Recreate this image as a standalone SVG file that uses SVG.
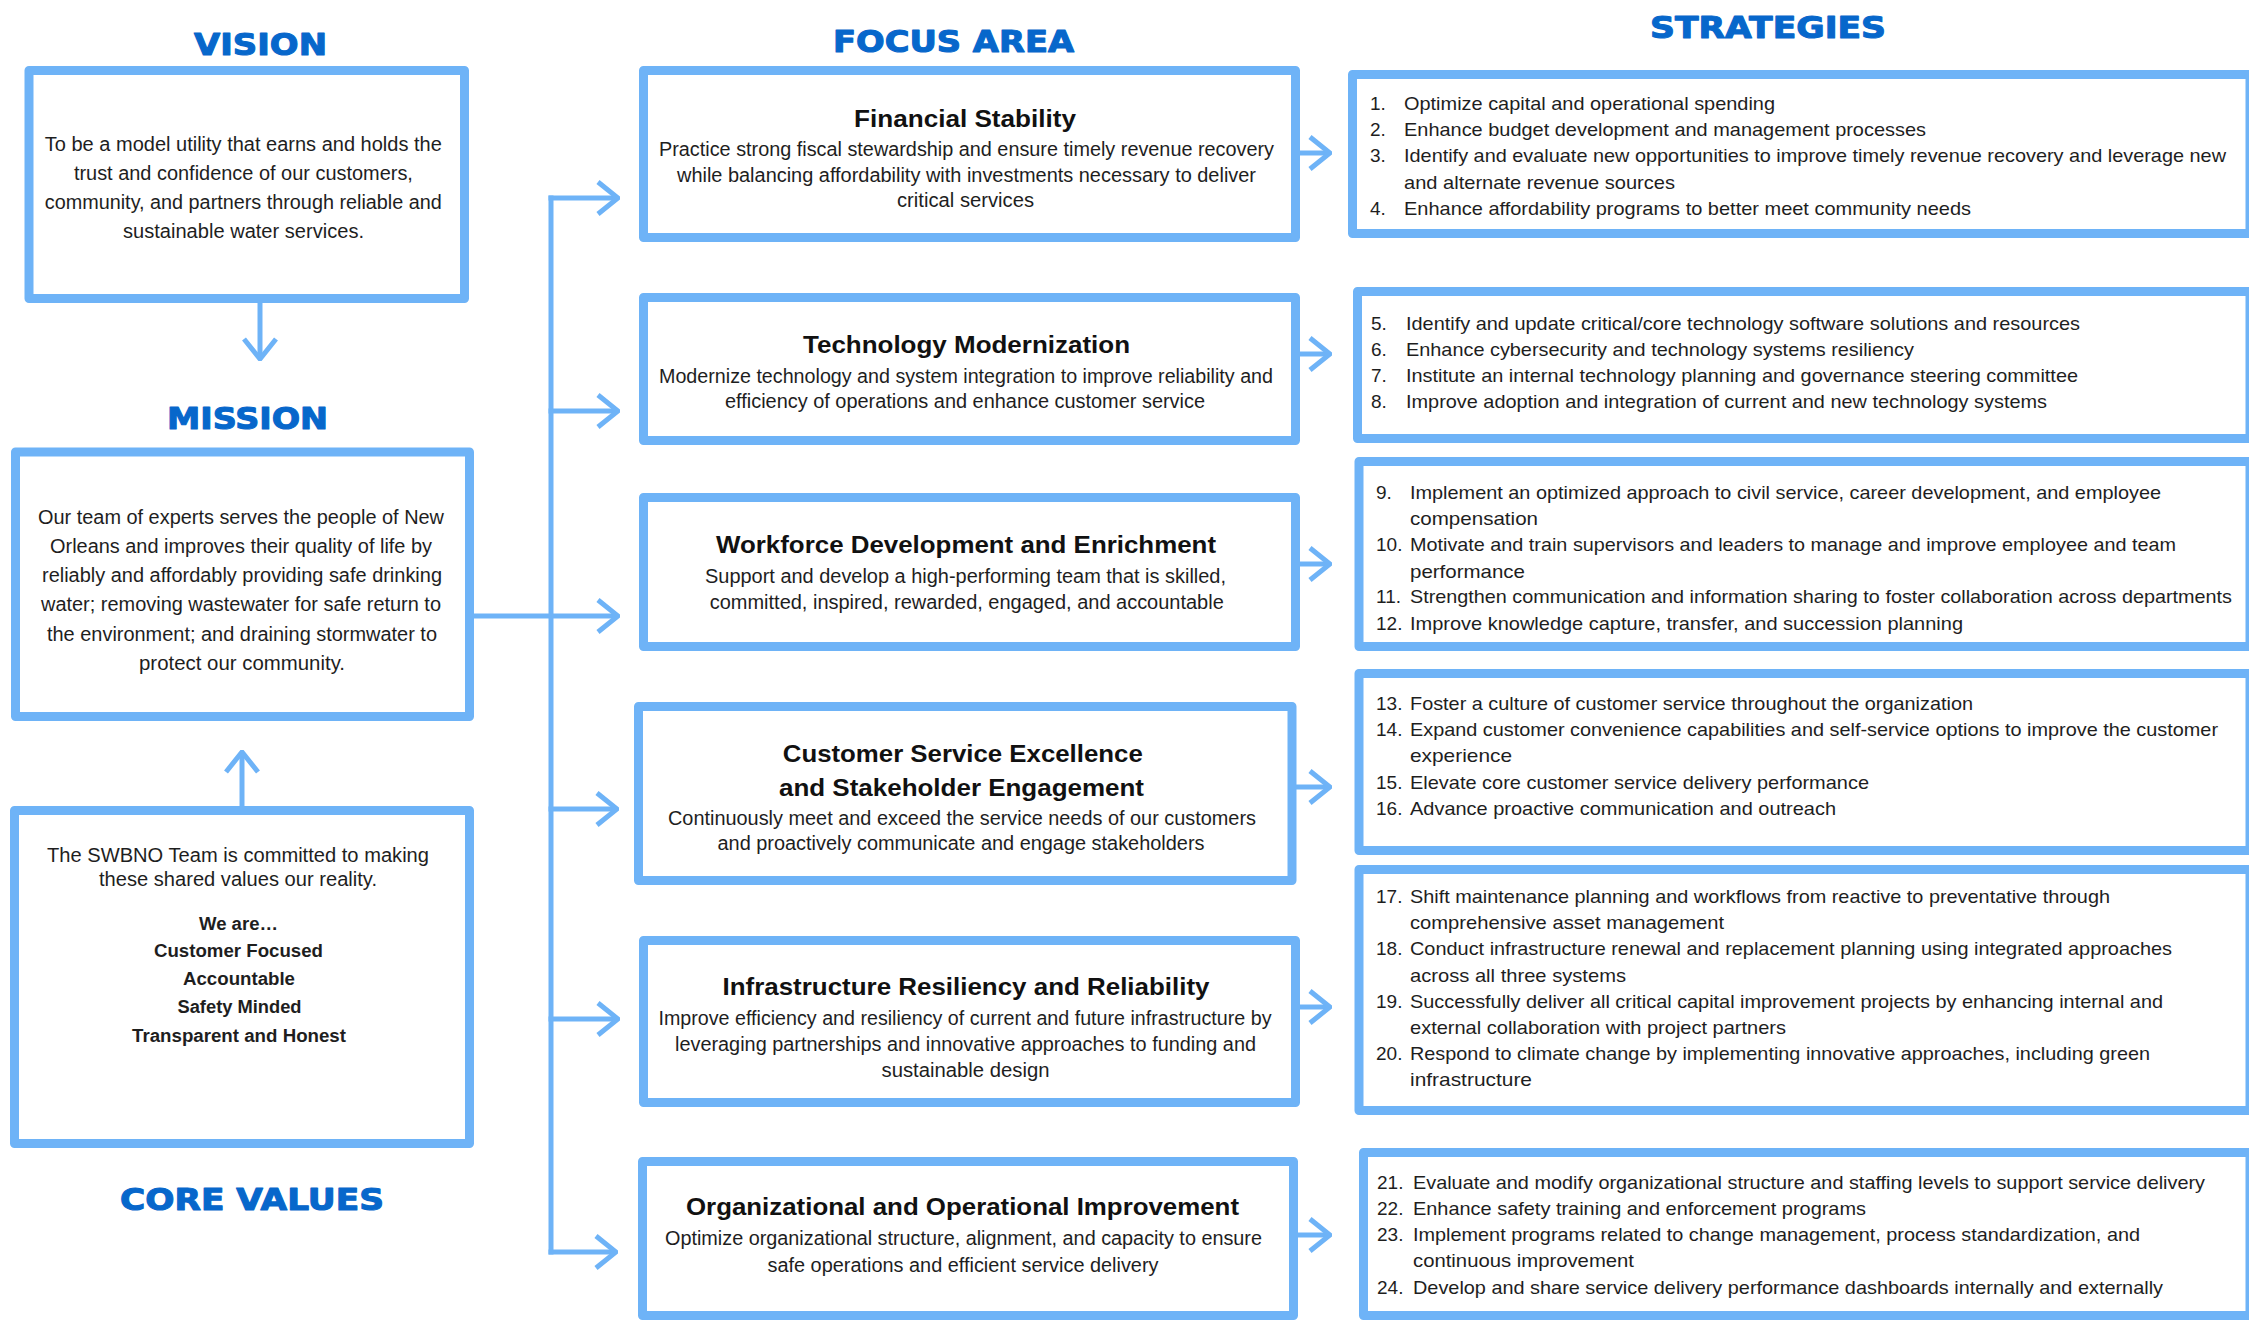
<svg xmlns="http://www.w3.org/2000/svg" width="2249" height="1323" viewBox="0 0 2249 1323">
<style>
.bg{fill:#ffffff}
.box{fill:#ffffff;stroke:#6EB3F7;stroke-width:9;stroke-linejoin:round}
.hdr{font-family:"DejaVu Sans","Liberation Sans",Arial,sans-serif;font-weight:bold;font-size:30px;fill:#0767CB;stroke:#0767CB;stroke-width:1.1px;stroke-linejoin:round;text-anchor:middle}
.body{font-family:"Liberation Sans",Arial,sans-serif;font-size:19.5px;fill:#1e1e1e;text-anchor:middle}
.val{font-family:"Liberation Sans",Arial,sans-serif;font-size:18px;font-weight:bold;fill:#1e1e1e;text-anchor:middle}
.ttl{font-family:"Liberation Sans",Arial,sans-serif;font-size:24px;font-weight:bold;fill:#111111;text-anchor:middle}
.num{font-family:"Liberation Sans",Arial,sans-serif;font-size:19px;fill:#1e1e1e}
.str{font-family:"Liberation Sans",Arial,sans-serif;font-size:19px;fill:#1e1e1e}
.conn{fill:none;stroke:#6EB3F7;stroke-width:5;stroke-linecap:butt;stroke-linejoin:miter}
</style>
<defs>
<marker id="chev" viewBox="0 0 24 36" refX="22" refY="18" markerWidth="24" markerHeight="36" markerUnits="userSpaceOnUse" orient="auto">
<polyline points="2,2 22,18 2,34" fill="none" stroke="#6EB3F7" stroke-width="5"/>
</marker>
</defs>
<rect class="bg" x="0" y="0" width="2249" height="1323"/>

<g id="labels">
<text class="hdr" x="260.5" y="55" textLength="133" lengthAdjust="spacingAndGlyphs">VISION</text>
<text class="hdr" x="247.5" y="429" textLength="161" lengthAdjust="spacingAndGlyphs">MISSION</text>
<text class="hdr" x="252" y="1210" textLength="264" lengthAdjust="spacingAndGlyphs">CORE VALUES</text>
<text class="hdr" x="953.5" y="52" textLength="241" lengthAdjust="spacingAndGlyphs">FOCUS AREA</text>
<text class="hdr" x="1768" y="38" textLength="236" lengthAdjust="spacingAndGlyphs">STRATEGIES</text>
</g>

<g id="connectors">
<line class="conn" x1="260" y1="303" x2="260" y2="359" marker-end="url(#chev)"/>
<line class="conn" x1="242" y1="806" x2="242" y2="752" marker-end="url(#chev)"/>
<line class="conn" x1="474" y1="616" x2="618" y2="616" marker-end="url(#chev)"/>
<line class="conn" x1="551" y1="195.5" x2="551" y2="1254.5"/>
<line class="conn" x1="548.5" y1="198" x2="618" y2="198" marker-end="url(#chev)"/>
<line class="conn" x1="548.5" y1="411" x2="618" y2="411" marker-end="url(#chev)"/>
<line class="conn" x1="548.5" y1="809" x2="617" y2="809" marker-end="url(#chev)"/>
<line class="conn" x1="548.5" y1="1019" x2="618" y2="1019" marker-end="url(#chev)"/>
<line class="conn" x1="548.5" y1="1252" x2="616" y2="1252" marker-end="url(#chev)"/>
<line class="conn" x1="1300" y1="153" x2="1330" y2="153" marker-end="url(#chev)"/>
<line class="conn" x1="1300" y1="354" x2="1330" y2="354" marker-end="url(#chev)"/>
<line class="conn" x1="1300" y1="564" x2="1330" y2="564" marker-end="url(#chev)"/>
<line class="conn" x1="1296" y1="787" x2="1330" y2="787" marker-end="url(#chev)"/>
<line class="conn" x1="1300" y1="1007" x2="1330" y2="1007" marker-end="url(#chev)"/>
<line class="conn" x1="1298" y1="1235" x2="1330" y2="1235" marker-end="url(#chev)"/>
</g>

<g id="vision">
<rect class="box" x="29" y="70.5" width="435.5" height="228"/>
<text class="body" x="243.3" y="151" textLength="397" lengthAdjust="spacingAndGlyphs">To be a model utility that earns and holds the</text>
<text class="body" x="243.4" y="180" textLength="339" lengthAdjust="spacingAndGlyphs">trust and confidence of our customers,</text>
<text class="body" x="243.3" y="209" textLength="397" lengthAdjust="spacingAndGlyphs">community, and partners through reliable and</text>
<text class="body" x="243.5" y="238" textLength="241" lengthAdjust="spacingAndGlyphs">sustainable water services.</text>
</g>

<g id="mission">
<rect class="box" x="15.5" y="452" width="454" height="264.5"/>
<text class="body" x="241" y="524" textLength="406" lengthAdjust="spacingAndGlyphs">Our team of experts serves the people of New</text>
<text class="body" x="241" y="553" textLength="382" lengthAdjust="spacingAndGlyphs">Orleans and improves their quality of life by</text>
<text class="body" x="242" y="582" textLength="400" lengthAdjust="spacingAndGlyphs">reliably and affordably providing safe drinking</text>
<text class="body" x="241" y="611" textLength="400" lengthAdjust="spacingAndGlyphs">water; removing wastewater for safe return to</text>
<text class="body" x="242" y="641" textLength="390" lengthAdjust="spacingAndGlyphs">the environment; and draining stormwater to</text>
<text class="body" x="242" y="670" textLength="206" lengthAdjust="spacingAndGlyphs">protect our community.</text>
</g>

<g id="core-values">
<rect class="box" x="14.5" y="810.5" width="455" height="333"/>
<text class="body" x="238" y="862" textLength="382" lengthAdjust="spacingAndGlyphs">The SWBNO Team is committed to making</text>
<text class="body" x="238" y="886" textLength="278" lengthAdjust="spacingAndGlyphs">these shared values our reality.</text>
<text class="val" x="238.5" y="930" textLength="79" lengthAdjust="spacingAndGlyphs">We are…</text>
<text class="val" x="238.5" y="957" textLength="169" lengthAdjust="spacingAndGlyphs">Customer Focused</text>
<text class="val" x="239" y="985" textLength="112" lengthAdjust="spacingAndGlyphs">Accountable</text>
<text class="val" x="239.5" y="1013" textLength="124" lengthAdjust="spacingAndGlyphs">Safety Minded</text>
<text class="val" x="239" y="1042" textLength="214" lengthAdjust="spacingAndGlyphs">Transparent and Honest</text>
</g>

<g id="focus-financial">
<rect class="box" x="643.5" y="70.5" width="652" height="167"/>
<text class="ttl" x="965" y="127" textLength="222" lengthAdjust="spacingAndGlyphs">Financial Stability</text>
<text class="body" x="966.5" y="156" textLength="615" lengthAdjust="spacingAndGlyphs">Practice strong fiscal stewardship and ensure timely revenue recovery</text>
<text class="body" x="966.5" y="182" textLength="579" lengthAdjust="spacingAndGlyphs">while balancing affordability with investments necessary to deliver</text>
<text class="body" x="965.5" y="207" textLength="137" lengthAdjust="spacingAndGlyphs">critical services</text>
</g>

<g id="focus-technology">
<rect class="box" x="643.5" y="297.5" width="652" height="143"/>
<text class="ttl" x="966.5" y="353" textLength="327" lengthAdjust="spacingAndGlyphs">Technology Modernization</text>
<text class="body" x="966" y="383" textLength="614" lengthAdjust="spacingAndGlyphs">Modernize technology and system integration to improve reliability and</text>
<text class="body" x="965" y="408" textLength="480" lengthAdjust="spacingAndGlyphs">efficiency of operations and enhance customer service</text>
</g>

<g id="focus-workforce">
<rect class="box" x="643.5" y="497.5" width="652" height="149"/>
<text class="ttl" x="966" y="553" textLength="500" lengthAdjust="spacingAndGlyphs">Workforce Development and Enrichment</text>
<text class="body" x="965.5" y="583" textLength="521" lengthAdjust="spacingAndGlyphs">Support and develop a high-performing team that is skilled,</text>
<text class="body" x="966.75" y="609" textLength="514" lengthAdjust="spacingAndGlyphs">committed, inspired, rewarded, engaged, and accountable</text>
</g>

<g id="focus-customer">
<rect class="box" x="638.5" y="706.5" width="653.5" height="174"/>
<text class="ttl" x="962.75" y="762" textLength="360" lengthAdjust="spacingAndGlyphs">Customer Service Excellence</text>
<text class="ttl" x="961.5" y="796" textLength="365" lengthAdjust="spacingAndGlyphs">and Stakeholder Engagement</text>
<text class="body" x="962" y="825" textLength="588" lengthAdjust="spacingAndGlyphs">Continuously meet and exceed the service needs of our customers</text>
<text class="body" x="961" y="850" textLength="487" lengthAdjust="spacingAndGlyphs">and proactively communicate and engage stakeholders</text>
</g>

<g id="focus-infrastructure">
<rect class="box" x="643.5" y="940.5" width="652" height="162"/>
<text class="ttl" x="966" y="995" textLength="487" lengthAdjust="spacingAndGlyphs">Infrastructure Resiliency and Reliability</text>
<text class="body" x="965" y="1025" textLength="613" lengthAdjust="spacingAndGlyphs">Improve efficiency and resiliency of current and future infrastructure by</text>
<text class="body" x="965.5" y="1051" textLength="581" lengthAdjust="spacingAndGlyphs">leveraging partnerships and innovative approaches to funding and</text>
<text class="body" x="965.5" y="1077" textLength="168" lengthAdjust="spacingAndGlyphs">sustainable design</text>
</g>

<g id="focus-organizational">
<rect class="box" x="642.5" y="1161.5" width="651" height="154"/>
<text class="ttl" x="962.5" y="1215" textLength="553" lengthAdjust="spacingAndGlyphs">Organizational and Operational Improvement</text>
<text class="body" x="963.5" y="1245" textLength="597" lengthAdjust="spacingAndGlyphs">Optimize organizational structure, alignment, and capacity to ensure</text>
<text class="body" x="963" y="1272" textLength="391" lengthAdjust="spacingAndGlyphs">safe operations and efficient service delivery</text>
</g>

<g id="strategies-financial">
<rect class="box" x="1352.5" y="74.5" width="897.5" height="159"/>
<text class="num" x="1370" y="110">1.</text>
<text class="str" x="1404" y="110" textLength="371" lengthAdjust="spacingAndGlyphs">Optimize capital and operational spending</text>
<text class="num" x="1370" y="136">2.</text>
<text class="str" x="1404" y="136" textLength="522" lengthAdjust="spacingAndGlyphs">Enhance budget development and management processes</text>
<text class="num" x="1370" y="162">3.</text>
<text class="str" x="1404" y="162" textLength="822" lengthAdjust="spacingAndGlyphs">Identify and evaluate new opportunities to improve timely revenue recovery and leverage new</text>
<text class="str" x="1404" y="189" textLength="271" lengthAdjust="spacingAndGlyphs">and alternate revenue sources</text>
<text class="num" x="1370" y="215">4.</text>
<text class="str" x="1404" y="215" textLength="567" lengthAdjust="spacingAndGlyphs">Enhance affordability programs to better meet community needs</text>
</g>

<g id="strategies-technology">
<rect class="box" x="1357.5" y="291.5" width="892.5" height="147"/>
<text class="num" x="1371" y="330">5.</text>
<text class="str" x="1406" y="330" textLength="674" lengthAdjust="spacingAndGlyphs">Identify and update critical/core technology software solutions and resources</text>
<text class="num" x="1371" y="356">6.</text>
<text class="str" x="1406" y="356" textLength="508" lengthAdjust="spacingAndGlyphs">Enhance cybersecurity and technology systems resiliency</text>
<text class="num" x="1371" y="382">7.</text>
<text class="str" x="1406" y="382" textLength="672" lengthAdjust="spacingAndGlyphs">Institute an internal technology planning and governance steering committee</text>
<text class="num" x="1371" y="408">8.</text>
<text class="str" x="1406" y="408" textLength="641" lengthAdjust="spacingAndGlyphs">Improve adoption and integration of current and new technology systems</text>
</g>

<g id="strategies-workforce">
<rect class="box" x="1359" y="461.5" width="891" height="185"/>
<text class="num" x="1376" y="499">9.</text>
<text class="str" x="1410" y="499" textLength="751" lengthAdjust="spacingAndGlyphs">Implement an optimized approach to civil service, career development, and employee</text>
<text class="str" x="1410" y="525" textLength="128" lengthAdjust="spacingAndGlyphs">compensation</text>
<text class="num" x="1376" y="551">10.</text>
<text class="str" x="1410" y="551" textLength="766" lengthAdjust="spacingAndGlyphs">Motivate and train supervisors and leaders to manage and improve employee and team</text>
<text class="str" x="1410" y="578" textLength="115" lengthAdjust="spacingAndGlyphs">performance</text>
<text class="num" x="1376" y="603">11.</text>
<text class="str" x="1410" y="603" textLength="822" lengthAdjust="spacingAndGlyphs">Strengthen communication and information sharing to foster collaboration across departments</text>
<text class="num" x="1376" y="630">12.</text>
<text class="str" x="1410" y="630" textLength="553" lengthAdjust="spacingAndGlyphs">Improve knowledge capture, transfer, and succession planning</text>
</g>

<g id="strategies-customer">
<rect class="box" x="1359" y="673.5" width="891" height="177"/>
<text class="num" x="1376" y="710">13.</text>
<text class="str" x="1410" y="710" textLength="563" lengthAdjust="spacingAndGlyphs">Foster a culture of customer service throughout the organization</text>
<text class="num" x="1376" y="736">14.</text>
<text class="str" x="1410" y="736" textLength="808" lengthAdjust="spacingAndGlyphs">Expand customer convenience capabilities and self-service options to improve the customer</text>
<text class="str" x="1410" y="762" textLength="102" lengthAdjust="spacingAndGlyphs">experience</text>
<text class="num" x="1376" y="789">15.</text>
<text class="str" x="1410" y="789" textLength="459" lengthAdjust="spacingAndGlyphs">Elevate core customer service delivery performance</text>
<text class="num" x="1376" y="815">16.</text>
<text class="str" x="1410" y="815" textLength="426" lengthAdjust="spacingAndGlyphs">Advance proactive communication and outreach</text>
</g>

<g id="strategies-infrastructure">
<rect class="box" x="1359" y="869.5" width="891" height="241"/>
<text class="num" x="1376" y="903">17.</text>
<text class="str" x="1410" y="903" textLength="700" lengthAdjust="spacingAndGlyphs">Shift maintenance planning and workflows from reactive to preventative through</text>
<text class="str" x="1410" y="929" textLength="314" lengthAdjust="spacingAndGlyphs">comprehensive asset management</text>
<text class="num" x="1376" y="955">18.</text>
<text class="str" x="1410" y="955" textLength="762" lengthAdjust="spacingAndGlyphs">Conduct infrastructure renewal and replacement planning using integrated approaches</text>
<text class="str" x="1410" y="982" textLength="216" lengthAdjust="spacingAndGlyphs">across all three systems</text>
<text class="num" x="1376" y="1008">19.</text>
<text class="str" x="1410" y="1008" textLength="753" lengthAdjust="spacingAndGlyphs">Successfully deliver all critical capital improvement projects by enhancing internal and</text>
<text class="str" x="1410" y="1034" textLength="376" lengthAdjust="spacingAndGlyphs">external collaboration with project partners</text>
<text class="num" x="1376" y="1060">20.</text>
<text class="str" x="1410" y="1060" textLength="740" lengthAdjust="spacingAndGlyphs">Respond to climate change by implementing innovative approaches, including green</text>
<text class="str" x="1410" y="1086" textLength="122" lengthAdjust="spacingAndGlyphs">infrastructure</text>
</g>

<g id="strategies-organizational">
<rect class="box" x="1363.5" y="1152.5" width="886.5" height="163"/>
<text class="num" x="1377" y="1189">21.</text>
<text class="str" x="1413" y="1189" textLength="792" lengthAdjust="spacingAndGlyphs">Evaluate and modify organizational structure and staffing levels to support service delivery</text>
<text class="num" x="1377" y="1215">22.</text>
<text class="str" x="1413" y="1215" textLength="453" lengthAdjust="spacingAndGlyphs">Enhance safety training and enforcement programs</text>
<text class="num" x="1377" y="1241">23.</text>
<text class="str" x="1413" y="1241" textLength="727" lengthAdjust="spacingAndGlyphs">Implement programs related to change management, process standardization, and</text>
<text class="str" x="1413" y="1267" textLength="221" lengthAdjust="spacingAndGlyphs">continuous improvement</text>
<text class="num" x="1377" y="1294">24.</text>
<text class="str" x="1413" y="1294" textLength="750" lengthAdjust="spacingAndGlyphs">Develop and share service delivery performance dashboards internally and externally</text>
</g>
</svg>
